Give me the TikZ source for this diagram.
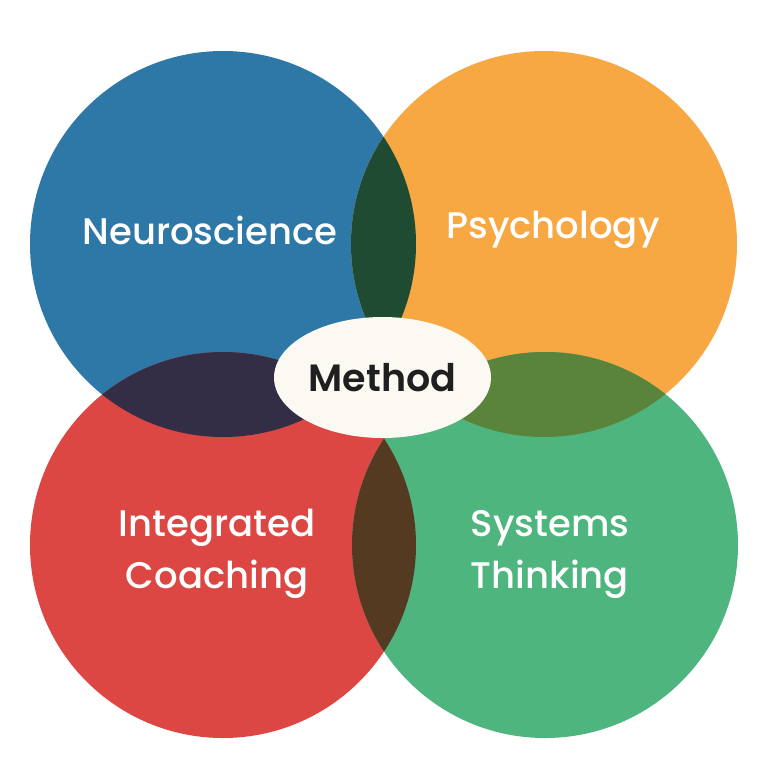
\documentclass[tikz,border=0pt]{standalone}
\usepackage{fontspec}
\usetikzlibrary{shapes.geometric}
\setmainfont{Poppins}
\newfontfamily\lblfont{Poppins}[UprightFont=* Medium]
\newfontfamily\methfont{Poppins}[UprightFont=* SemiBold]
\definecolor{cblue}{HTML}{2E78A8}
\definecolor{corange}{HTML}{F8A843}
\definecolor{cred}{HTML}{DC4744}
\definecolor{cgreen}{HTML}{4DB57D}
\definecolor{lbo}{HTML}{1F4B33}
\definecolor{lbr}{HTML}{332D45}
\definecolor{log}{HTML}{5A843C}
\definecolor{lrg}{HTML}{553A22}
\definecolor{cmeth}{HTML}{FCF8F2}
\tikzset{
  lbl/.style={text=white, font=\lblfont\fontsize{37}{52}\selectfont, align=center, inner sep=0pt},
}
\begin{document}
\begin{tikzpicture}[x=1pt,y=-1pt]
\useasboundingbox (0,0) rectangle (763,763);
\fill[white] (0,0) rectangle (763,763);
\coordinate (cB) at (223,244);
\coordinate (cO) at (544,244);
\coordinate (cR) at (223,545);
\coordinate (cG) at (545,545);
\fill[cblue] (cB) circle[radius=193pt];
\fill[corange] (cO) circle[radius=193pt];
\fill[cred] (cR) circle[radius=193pt];
\fill[cgreen] (cG) circle[radius=193pt];
\begin{scope}
  \clip (cB) circle[radius=193pt];
  \fill[lbo] (cO) circle[radius=193pt];
  \fill[lbr] (cR) circle[radius=193pt];
\end{scope}
\begin{scope}
  \clip (cG) circle[radius=193pt];
  \fill[log] (cO) circle[radius=193pt];
  \fill[lrg] (cR) circle[radius=193pt];
\end{scope}
\node[ellipse, fill=cmeth, minimum width=217pt, minimum height=121pt, inner sep=0pt,
      font=\methfont\fontsize{38}{40}\selectfont, text=black!88] (m) at (382.5,377.5) {Method};
\node[lbl] (n) at (210,230) {Neuroscience};
\node[lbl] (p) at (553,230) {Psychology};
\node[lbl] (ic) at (217,554) {Integrated\\Coaching};
\node[lbl] (st) at (550,554) {Systems\\Thinking};
\end{tikzpicture}
\end{document}
